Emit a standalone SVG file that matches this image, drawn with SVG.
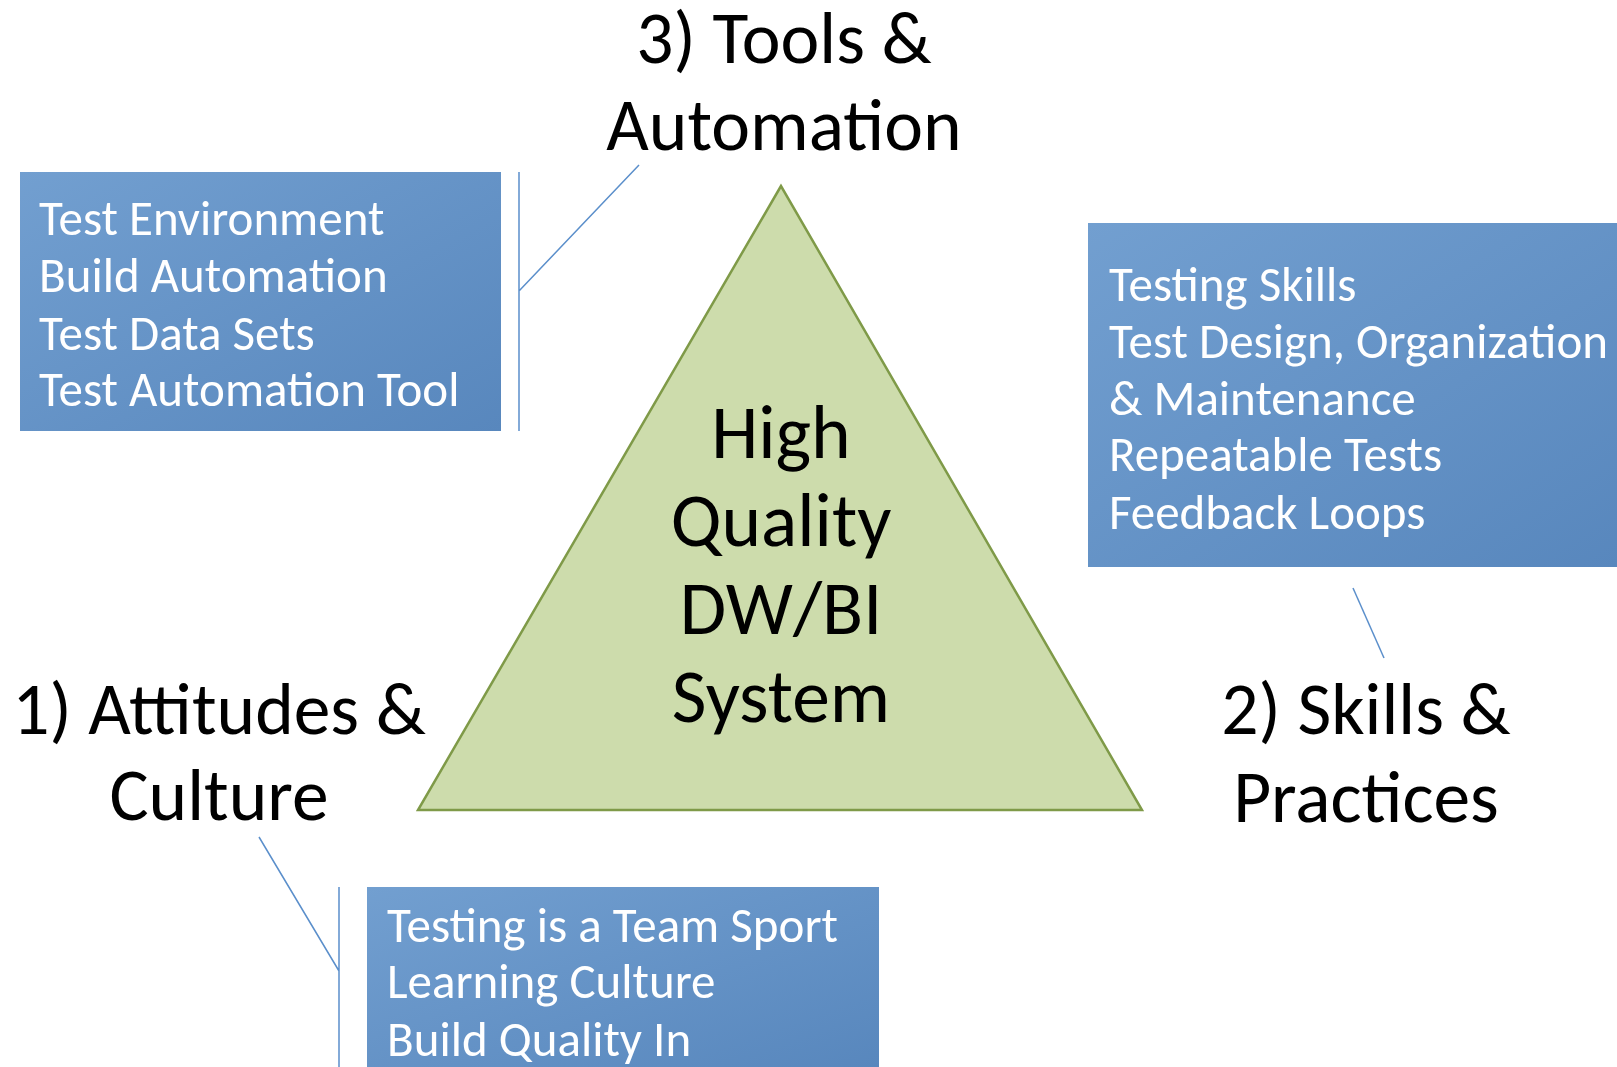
<svg xmlns="http://www.w3.org/2000/svg" width="1617" height="1067" viewBox="0 0 1617 1067">
<style>
.lbl{font-family:Carlito,Lato,"Open Sans",sans-serif;font-weight:300;font-size:73.5px;fill:#000;text-anchor:middle}
.ctr{font-family:Carlito,Lato,"Open Sans",sans-serif;font-weight:400;font-size:75.5px;fill:#000;text-anchor:middle}
.box{fill:url(#bg)}
.bt{font-family:Carlito,Lato,"Open Sans",sans-serif;font-size:49px;fill:#fff}
.con{stroke:#5B8FCB;stroke-width:1.5;fill:none}
</style>
<defs>
<linearGradient id="bg" x1="0" y1="0" x2="1" y2="1">
<stop offset="0" stop-color="#729FD0"/>
<stop offset="1" stop-color="#5887BD"/>
</linearGradient>
</defs>
<rect width="1617" height="1067" fill="#fff"/>
<g id="triangle">
<polygon points="781,186 418,810 1142,810" fill="#CDDCAC" stroke="#7F9A48" stroke-width="2.5"/>
<text class="ctr" x="781" y="458">High</text>
<text class="ctr" x="781" y="546">Quality</text>
<text class="ctr" x="781" y="634">DW/BI</text>
<text class="ctr" x="781" y="722">System</text>
</g>
<g id="label-tools">
<text class="lbl" x="784" y="63">3) Tools &amp;</text>
<text class="lbl" x="784" y="150">Automation</text>
</g>
<g id="label-attitudes">
<text class="lbl" x="219" y="734">1) Attitudes &amp;</text>
<text class="lbl" x="219" y="820">Culture</text>
</g>
<g id="label-skills">
<text class="lbl" x="1366" y="734">2) Skills &amp;</text>
<text class="lbl" x="1366" y="822">Practices</text>
</g>
<g id="box-tools">
<rect class="box" x="20" y="172" width="481" height="259"/>
<text class="bt" x="39" y="235">Test Environment</text>
<text class="bt" x="39" y="292">Build Automation</text>
<text class="bt" x="39" y="350">Test Data Sets</text>
<text class="bt" x="39" y="406">Test Automation Tool</text>
</g>
<g id="box-skills">
<rect class="box" x="1088" y="223" width="529" height="344"/>
<text class="bt" x="1109" y="301">Testing Skills</text>
<text class="bt" x="1109" y="358">Test Design, Organization</text>
<text class="bt" x="1109" y="415">&amp; Maintenance</text>
<text class="bt" x="1109" y="471">Repeatable Tests</text>
<text class="bt" x="1109" y="529">Feedback Loops</text>
</g>
<g id="box-attitudes">
<rect class="box" x="367" y="887" width="512" height="180"/>
<text class="bt" x="387" y="942">Testing is a Team Sport</text>
<text class="bt" x="387" y="998">Learning Culture</text>
<text class="bt" x="387" y="1056">Build Quality In</text>
</g>
<g id="connectors">
<path class="con" d="M519,172 V431 M519,291 L639,165"/>
<path class="con" d="M1353,588 L1384,658"/>
<path class="con" d="M339,887 V1067 M339,971 L259,837"/>
</g>
</svg>
